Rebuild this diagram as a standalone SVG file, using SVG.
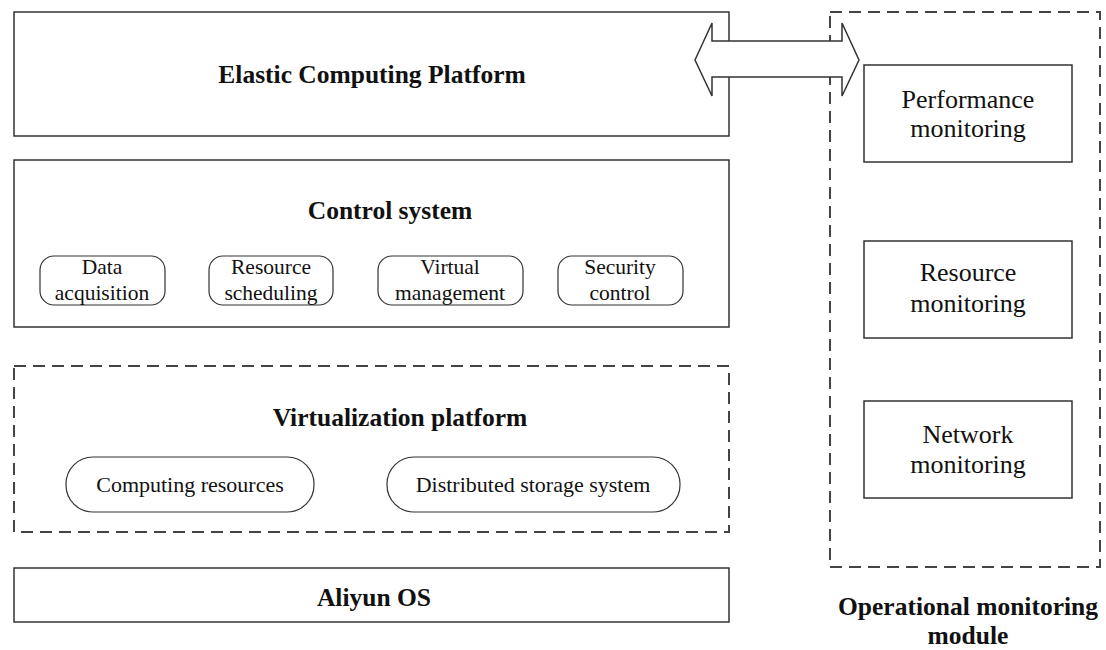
<svg xmlns="http://www.w3.org/2000/svg" width="1106" height="650" viewBox="0 0 1106 650">
<style>
.box{fill:#fff;stroke:#333;stroke-width:1.5}
.dash{fill:none;stroke:#444;stroke-width:2;stroke-dasharray:12,7}
.pill{fill:#fff;stroke:#333;stroke-width:1.2}
.t{font-family:"Liberation Serif",serif;fill:#111;text-anchor:middle}
.b{font-weight:bold;font-size:25.5px}
.s{font-size:21.5px}
.l{font-size:22px}
.m{font-size:26px}
</style>
<rect width="1106" height="650" fill="#fff"/>
<g id="ops-module">
<rect class="dash" x="830" y="12" width="270" height="555"/>
<text class="t b" x="968" y="615">Operational monitoring</text>
<text class="t b" x="968" y="644">module</text>
</g>
<g id="elastic">
<rect class="box" x="14" y="12" width="715" height="124"/>
<text class="t b" x="372" y="83">Elastic Computing Platform</text>
</g>
<g id="control">
<rect class="box" x="14" y="160" width="715" height="167"/>
<text class="t b" x="390" y="219">Control system</text>
</g>
<g id="data-acq"><rect class="pill" x="40" y="256" width="125" height="49" rx="14"/><text class="t s" x="102" y="274">Data</text><text class="t s" x="102" y="300">acquisition</text></g>
<g id="res-sched"><rect class="pill" x="209" y="256" width="124" height="49" rx="14"/><text class="t s" x="271" y="274">Resource</text><text class="t s" x="271" y="300">scheduling</text></g>
<g id="virt-mgmt"><rect class="pill" x="378" y="256" width="145" height="49" rx="14"/><text class="t s" x="450" y="274">Virtual</text><text class="t s" x="450" y="300">management</text></g>
<g id="sec-ctrl"><rect class="pill" x="558" y="256" width="125" height="49" rx="14"/><text class="t s" x="620" y="274">Security</text><text class="t s" x="620" y="300">control</text></g>
<g id="virtualization">
<rect class="dash" x="14" y="366" width="715" height="166"/>
<text class="t b" x="400" y="426">Virtualization platform</text>
</g>
<g id="computing"><rect class="pill" x="66" y="457" width="248" height="55" rx="27"/><text class="t l" x="190" y="492">Computing resources</text></g>
<g id="storage"><rect class="pill" x="387" y="457" width="293" height="55" rx="27"/><text class="t l" x="533" y="492">Distributed  storage system</text></g>
<g id="aliyun">
<rect class="box" x="14" y="568" width="715" height="54"/>
<text class="t b" x="374" y="606">Aliyun OS</text>
</g>
<g id="perf"><rect class="box" x="864" y="65" width="208" height="97"/><text class="t m" x="968" y="108">Performance</text><text class="t m" x="968" y="137">monitoring</text></g>
<g id="resmon"><rect class="box" x="864" y="241" width="208" height="97"/><text class="t m" x="968" y="281">Resource</text><text class="t m" x="968" y="312">monitoring</text></g>
<g id="netmon"><rect class="box" x="864" y="401" width="208" height="97"/><text class="t m" x="968" y="443">Network</text><text class="t m" x="968" y="473">monitoring</text></g>
<g id="connectors">
<polygon points="695,60 712,23 712,41 842,41 842,23 859,60 842,96 842,77 712,77 712,96" fill="#fff" stroke="#333" stroke-width="1.5"/>
</g>
</svg>
